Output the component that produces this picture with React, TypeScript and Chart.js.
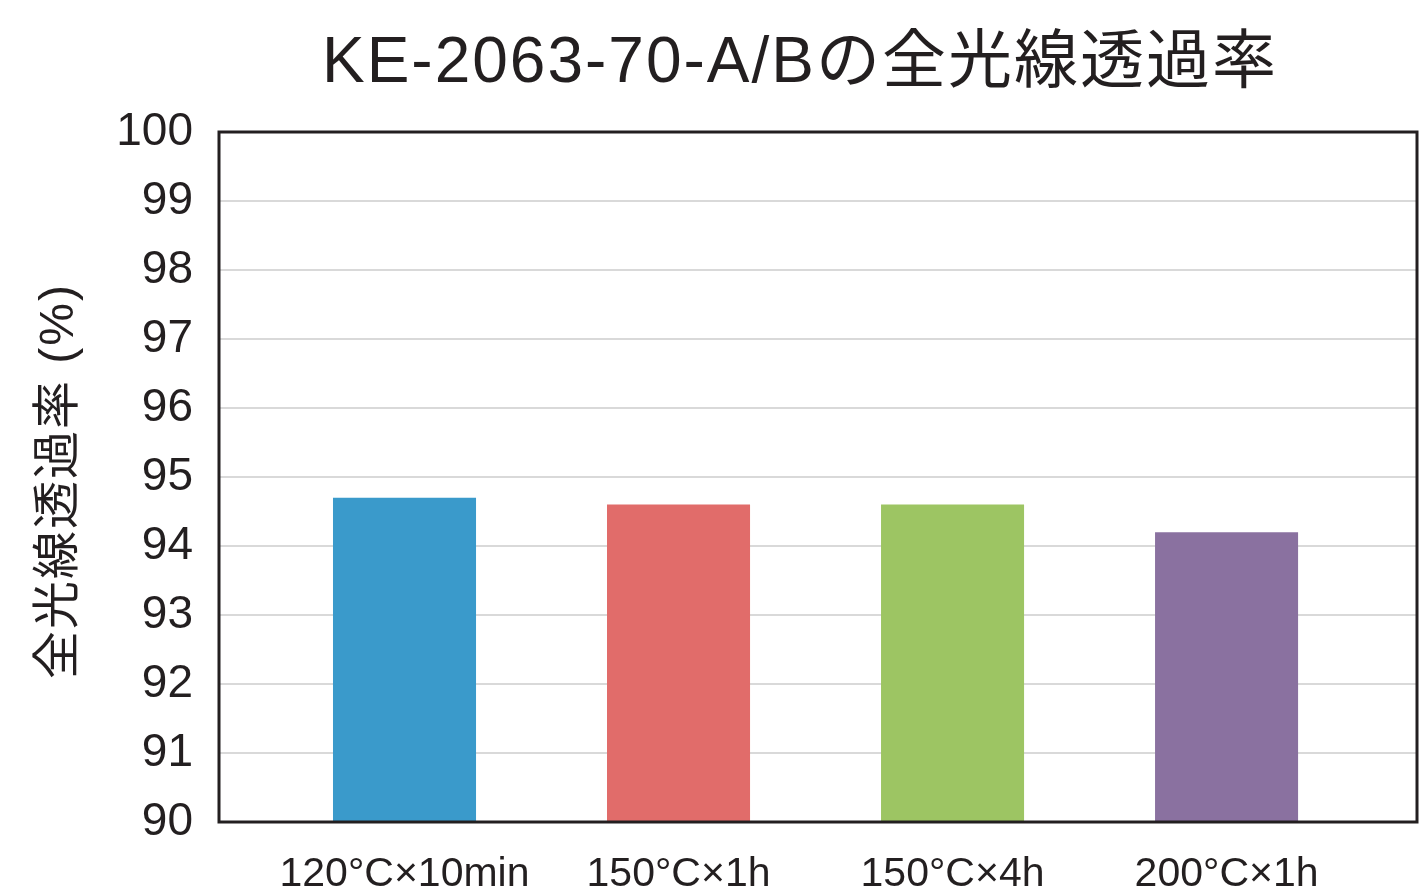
import React, { useEffect, useRef } from "react";
import { Chart, registerables } from "chart.js";

Chart.register(...registerables);

const categories = ["120°C×10min", "150°C×1h", "150°C×4h", "200°C×1h"];
const values = [94.7, 94.6, 94.6, 94.2];
const barColors = ["#3A9ACB", "#E16C6A", "#9DC563", "#8A71A0"];
const titleText = "KE-2063-70-A/Bの全光線透過率";
const yLabel = "全光線透過率 (%)";
const yMin = 90;
const yMax = 100;
// category axis window (in category-index units) as in the original layout
const xStart = -0.677;
const xRange = 4.372;

const FONT = "'Liberation Sans', Arial, 'Noto Sans CJK JP', sans-serif";
const INK = "#231f20";

const decor = {
  id: "decor",
  afterDatasetsDraw(chart: any) {
    const { ctx, chartArea } = chart;
    ctx.save();
    ctx.strokeStyle = INK;
    ctx.lineWidth = 3;
    ctx.strokeRect(chartArea.left, chartArea.top, chartArea.right - chartArea.left, chartArea.bottom - chartArea.top);
    ctx.restore();
  },
  afterDraw(chart: any) {
    const { ctx } = chart;
    ctx.save();
    ctx.fillStyle = INK;
    ctx.font = `64px ${FONT}`;
    (ctx as any).letterSpacing = "2px";
    ctx.textAlign = "center";
    ctx.textBaseline = "alphabetic";
    ctx.fillText(titleText, 800, 82);
    ctx.translate(60, 481);
    ctx.rotate(-Math.PI / 2);
    ctx.font = `48px ${FONT}`;
    (ctx as any).letterSpacing = "2px";
    ctx.textBaseline = "middle";
    ctx.fillText(yLabel, 0, 0);
    ctx.restore();
  },
};

export default function App() {
  const ref = useRef<HTMLCanvasElement>(null);
  useEffect(() => {
    if (!ref.current) return;
    const chart = new Chart(ref.current, {
      type: "bar",
      data: {
        labels: categories,
        datasets: [
          {
            data: values,
            backgroundColor: barColors,
            borderWidth: 0,
            barPercentage: 0.522,
            categoryPercentage: 1,
          },
        ],
      },
      options: {
        animation: false,
        responsive: false,
        layout: { padding: { top: 132, right: 10, left: 0, bottom: 0 } },
        plugins: { legend: { display: false }, title: { display: false }, tooltip: { enabled: false } },
        scales: {
          x: {
            offset: false,
            grid: { display: false, drawTicks: false },
            border: { display: false },
            ticks: { color: INK, font: { family: FONT, size: 41 }, padding: 28, maxRotation: 0, autoSkip: false },
            afterBuildTicks(scale: any) {
              scale._startValue = xStart;
              scale._valueRange = xRange;
            },
            afterFit(scale: any) {
              scale.height = 73;
            },
          },
          y: {
            min: yMin,
            max: yMax,
            grid: { color: "#d9d9d9", lineWidth: 2, drawTicks: false },
            border: { display: false },
            ticks: { stepSize: 1, color: INK, font: { family: FONT, size: 46 }, padding: 26 },
            afterFit(scale: any) {
              scale.width = 219;
            },
          },
        },
      },
      plugins: [decor],
    });
    return () => chart.destroy();
  }, []);
  return (
    <div style={{ position: "fixed", left: 0, top: 0, width: 1427, height: 895, background: "#fff" }}>
      <canvas ref={ref} width={1427} height={895} style={{ width: 1427, height: 895 }} />
    </div>
  );
}
